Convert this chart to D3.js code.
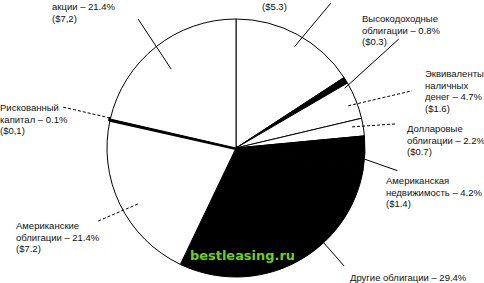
<!DOCTYPE html>
<html><head><meta charset="utf-8">
<script src="https://cdn.jsdelivr.net/npm/d3@7"></script>
<style>html,body{margin:0;padding:0;background:#fff;}svg{display:block;}</style>
</head><body>
<div id="chart"></div>
<script>
// ---- data ----
const categories = ["Международные акции","Высокодоходные облигации","Эквиваленты наличных денег","Долларовые облигации","Американская недвижимость","Другие облигации","Американские облигации","Рискованный капитал","Американские акции"];
const percents = [15.8, 0.8, 4.7, 2.2, 4.2, 29.4, 21.4, 0.1, 21.4];
const amounts = [5.3, 0.3, 1.6, 0.7, 1.4, 9.9, 7.2, 0.1, 7.2];
const labelLines = [
  ["($5.3)"],
  ["Высокодоходные","облигации – 0.8%","($0.3)"],
  ["Эквиваленты","наличных","денег – 4.7%","($1.6)"],
  ["Долларовые","облигации – 2.2%","($0.7)"],
  ["Американская","недвижимость – 4.2%","($1.4)"],
  ["Другие облигации – 29.4%"],
  ["Американские","облигации – 21.4%","($7.2)"],
  ["Рискованный","капитал – 0.1%","($0,1)"],
  ["акции – 21.4%","($7,2)"]
];
const darkSlices = [false,true,false,false,true,true,false,true,false];

// ---- layout ----
const W = 484, H = 283, cx = 236, cy = 148, R = 129;
// leader: [innerAngleDeg, innerR, outerAngleDeg, outerR, dashed]; text: [x, y]
const leaders = [
  [30, 117, 33.2, 173, false],
  [61.2, 124, 56.2, 196, false],
  [69.4, 120, 72, 185, true],
  [79.7, 118, 81.4, 161, true],
  [95, 129.5, 98, 163, false],
  [137.2, 129.5, 137.5, 160, false],
  [240.3, 113, 242.1, 156, true],
  [283.4, 129.5, 283.3, 178, true],
  [320.6, 102, 322.8, 162, false]
];
const textPos = [[262,10],[362,22],[425,77],[407,132],[386,184],[350,281],[16,229],[0,111],[52,10]];
const lineH = 11.5;

const svg = d3.select("#chart").append("svg").attr("width", W).attr("height", H)
  .style("font-family", "'Liberation Sans', Arial, sans-serif");
svg.append("rect").attr("width", W).attr("height", H).attr("fill", "#fff");

const g = svg.append("g").attr("transform", `translate(${cx},${cy})`);
const pie = d3.pie().sort(null).value(d => d);
const arcs = pie(percents);
const arc = d3.arc().innerRadius(0).outerRadius(R);

g.selectAll("path.slice").data(arcs).join("path")
  .attr("class", "slice")
  .attr("d", arc)
  .attr("fill", (d, i) => darkSlices[i] ? "#000" : "#fff")
  .attr("stroke", "#000")
  .attr("stroke-width", (d, i) => percents[i] < 0.5 ? 4 : 1)
  .attr("stroke-linejoin", "round");

const polar = (deg, r) => {
  const a = deg * Math.PI / 180;
  return [r * Math.sin(a), -r * Math.cos(a)];
};

g.selectAll("line.leader").data(leaders).join("line")
  .attr("class", "leader")
  .attr("x1", d => polar(d[0], d[1])[0]).attr("y1", d => polar(d[0], d[1])[1])
  .attr("x2", d => polar(d[2], d[3])[0]).attr("y2", d => polar(d[2], d[3])[1])
  .attr("stroke", "#000").attr("stroke-width", 1)
  .attr("stroke-dasharray", d => d[4] ? "3,2" : null);

labelLines.forEach((lines, i) => {
  const t = svg.append("text")
    .attr("x", textPos[i][0]).attr("y", textPos[i][1])
    .attr("font-size", 9.5).attr("fill", "#111");
  lines.forEach((s, k) => {
    t.append("tspan").attr("x", textPos[i][0]).attr("y", textPos[i][1] + k * lineH).text(s);
  });
});

svg.append("text").attr("x", 190).attr("y", 260)
  .attr("font-family", "'DejaVu Sans', Verdana, sans-serif")
  .attr("font-weight", "bold").attr("font-size", 13)
  .attr("textLength", 105).attr("lengthAdjust", "spacingAndGlyphs")
  .attr("fill", "#6fd016").text("bestleasing.ru");
</script>
</body></html>
